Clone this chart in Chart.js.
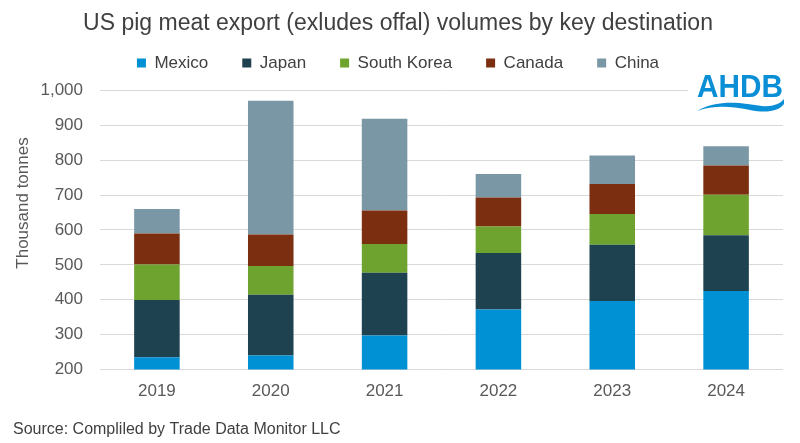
<!DOCTYPE html>
<html>
<head>
<meta charset="utf-8">
<script src="https://cdn.jsdelivr.net/npm/chart.js@4.4.1/dist/chart.umd.min.js"></script>
<style>
  html, body { margin: 0; padding: 0; background: #ffffff; }
  #wrap { width: 800px; height: 443px; position: relative; }
</style>
</head>
<body>
<div id="wrap"><canvas id="c" width="800" height="443"></canvas></div>
<script>
const categories = ['2019', '2020', '2021', '2022', '2023', '2024'];
const mexico     = [235, 240, 297, 372, 396, 425];
const japan      = [164, 174, 180, 162, 162, 160];
const southKorea = [102,  83,  83,  76,  88, 116];
const canada     = [ 89,  90,  96,  83,  86,  84];
const china      = [ 70, 384, 263,  68,  82,  55];
const yTicks = [200, 300, 400, 500, 600, 700, 800, 900, 1000];
const yTitle = 'Thousand tonnes';

const FONT = "'Liberation Sans', Arial, sans-serif";

const legendSpacer = {
  id: 'legendSpacer',
  beforeInit(chart) {
    const lg = chart.legend;
    if (!lg) return;
    const orig = lg.fit;
    lg.fit = function () {
      orig.call(this);
      this.height += 9;
    };
  }
};

const yTitlePlugin = {
  id: 'yTitle',
  afterDraw(chart) {
    const ctx = chart.ctx;
    ctx.save();
    ctx.translate(23, 203);
    ctx.rotate(-Math.PI / 2);
    ctx.fillStyle = '#595959';
    ctx.font = '17px ' + FONT;
    ctx.textAlign = 'center';
    ctx.textBaseline = 'middle';
    ctx.fillText(yTitle, 0, 0);
    ctx.restore();
  }
};

const logoPlugin = {
  id: 'logo',
  afterDraw(chart) {
    const ctx = chart.ctx;
    ctx.save();
    ctx.fillStyle = '#ffffff';
    ctx.fillRect(688, 68, 100, 48);
    ctx.fillStyle = '#0a8fd6';
    ctx.font = 'bold 31px ' + FONT;
    ctx.textBaseline = 'alphabetic';
    ctx.textAlign = 'left';
    ctx.save();
    ctx.translate(697, 97);
    ctx.scale(0.96, 1);
    ctx.fillText('AHDB', 0, 0);
    ctx.restore();
    ctx.beginPath();
    ctx.moveTo(697, 111);
    ctx.bezierCurveTo(720, 98, 745, 104, 762, 106);
    ctx.bezierCurveTo(772, 107, 780, 104, 784, 99);
    ctx.lineTo(784, 104);
    ctx.bezierCurveTo(778, 112, 765, 113, 750, 110);
    ctx.bezierCurveTo(735, 107, 715, 104, 697, 111);
    ctx.closePath();
    ctx.fill();
    ctx.restore();
  }
};

const mk = (label, data, color) => ({
  label, data, backgroundColor: color, borderWidth: 0,
  categoryPercentage: 1.0, barPercentage: 0.4
});

new Chart(document.getElementById('c'), {
  type: 'bar',
  data: {
    labels: categories,
    datasets: [
      mk('Mexico', mexico, '#0091d5'),
      mk('Japan', japan, '#1f4251'),
      mk('South Korea', southKorea, '#6ea32f'),
      mk('Canada', canada, '#7b2e10'),
      mk('China', china, '#7a97a5')
    ]
  },
  options: {
    responsive: false,
    animation: false,
    layout: { padding: { left: 13, right: 17, top: 8, bottom: 0 } },
    plugins: {
      title: {
        display: true,
        text: 'US pig meat export (exludes offal) volumes by key destination',
        color: '#404040',
        font: { family: FONT, size: 23, weight: 'normal' },
        padding: { top: 2, bottom: -17 }
      },
      subtitle: {
        display: true,
        position: 'bottom',
        align: 'start',
        text: 'Source: Compliled by Trade Data Monitor LLC',
        color: '#404040',
        font: { family: FONT, size: 16, weight: 'normal' },
        padding: { top: 6, bottom: 4 }
      },
      legend: {
        display: true,
        position: 'top',
        labels: {
          color: '#404040',
          font: { family: FONT, size: 17 },
          boxWidth: 9,
          boxHeight: 9,
          padding: 34
        }
      },
      tooltip: { enabled: false }
    },
    scales: {
      x: {
        stacked: true,
        grid: { display: false, drawTicks: false },
        border: { display: false },
        ticks: { color: '#595959', font: { family: FONT, size: 17 }, padding: 12 }
      },
      y: {
        stacked: true,
        min: 200,
        max: 1000,
        afterBuildTicks(axis) { axis.ticks = yTicks.map(v => ({ value: v })); },
        afterFit(axis) { axis.width = 87; },
        grid: { color: '#d9d9d9', lineWidth: 1, drawTicks: false },
        border: { display: false },
        ticks: {
          color: '#595959',
          font: { family: FONT, size: 17 },
          padding: 17,
          callback: v => v.toLocaleString('en-US')
        }
      }
    }
  },
  plugins: [legendSpacer, yTitlePlugin, logoPlugin]
});
</script>
</body>
</html>
